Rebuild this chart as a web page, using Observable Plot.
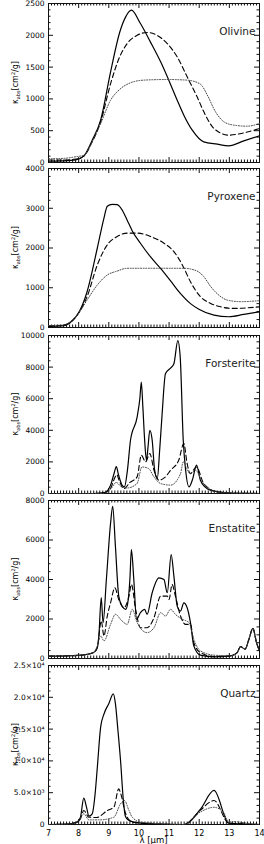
<!DOCTYPE html>
<html><head><meta charset="utf-8">
<script src="https://cdn.jsdelivr.net/npm/d3@7"></script>
<script src="https://cdn.jsdelivr.net/npm/@observablehq/plot@0.6"></script>
<style>
body{margin:0;background:#fff;width:264px;height:844px;position:relative;overflow:hidden;font-family:"DejaVu Sans",sans-serif}
.p{position:absolute;left:0}
</style>
</head><body>
<script>
// ---- axis ticks ----
const xMajorTicks = [7, 8, 9, 10, 11, 12, 13, 14];
const xTickLabels = ["7", "8", "9", "10", "11", "12", "13", "14"];
const olivineTicks = [0, 500, 1000, 1500, 2000, 2500];
const pyroxeneTicks = [0, 1000, 2000, 3000, 4000];
const forsteriteTicks = [0, 2000, 4000, 6000, 8000, 10000];
const enstatiteTicks = [0, 2000, 4000, 6000, 8000];
const quartzTicks = [0, 5000, 10000, 15000, 20000, 25000];
const quartzTickLabels = ["0", "5.0×10³", "1.0×10⁴", "1.5×10⁴", "2.0×10⁴", "2.5×10⁴"];
const titles = ["Olivine", "Pyroxene", "Forsterite", "Enstatite", "Quartz"];

// ---- Olivine ----
const olivineSolidLam = [7.0, 7.5, 7.9, 8.17, 8.45, 8.73, 9.06, 9.36, 9.56, 9.75, 10.05, 10.38, 10.72, 10.99, 11.27, 11.49, 11.77, 12.15, 12.6, 12.98, 13.48, 14.0];
const olivineSolidVal = [20, 25, 40, 100, 350, 665, 1425, 2044, 2290, 2395, 2185, 1897, 1583, 1295, 980, 744, 508, 325, 288, 262, 340, 420];
const olivineDashedLam = [7.0, 7.5, 7.9, 8.17, 8.45, 8.73, 9.06, 9.36, 9.61, 9.94, 10.27, 10.6, 10.94, 11.27, 11.6, 11.93, 12.18, 12.49, 12.98, 13.48, 14.0];
const olivineDashedVal = [40, 40, 55, 100, 325, 640, 1240, 1660, 1870, 2000, 2044, 2000, 1870, 1660, 1347, 1033, 770, 535, 430, 466, 535];
const olivineDottedLam = [7.0, 7.5, 7.9, 8.17, 8.45, 8.73, 9.06, 9.36, 9.72, 10.16, 10.94, 11.6, 12.04, 12.27, 12.54, 12.82, 13.15, 13.59, 14.0];
const olivineDottedVal = [60, 65, 90, 115, 325, 613, 980, 1148, 1253, 1295, 1305, 1295, 1232, 1059, 797, 640, 587, 571, 613];

// ---- Pyroxene ----
const pyroxeneSolidLam = [7.0, 7.45, 7.95, 8.28, 8.62, 8.84, 8.95, 9.11, 9.28, 9.44, 9.61, 9.78, 10.05, 10.38, 10.76, 11.05, 11.38, 11.71, 11.99, 12.49, 12.98, 13.48, 14.0];
const pyroxeneSolidVal = [30, 40, 310, 900, 2000, 2750, 3050, 3100, 3090, 2960, 2700, 2430, 2120, 1780, 1450, 1170, 850, 600, 460, 310, 270, 330, 395];
const pyroxeneDashedLam = [7.0, 7.45, 7.95, 8.28, 8.62, 8.95, 9.28, 9.61, 9.94, 10.38, 10.83, 11.16, 11.44, 11.71, 12.04, 12.38, 12.71, 13.15, 14.0];
const pyroxeneDashedVal = [40, 50, 310, 775, 1575, 2080, 2290, 2375, 2375, 2290, 2120, 1910, 1575, 1150, 775, 605, 520, 480, 520];
const pyroxeneDottedLam = [7.0, 7.45, 7.95, 8.28, 8.62, 8.95, 9.28, 9.61, 10.38, 11.49, 11.93, 12.15, 12.38, 12.65, 12.93, 13.37, 14.0];
const pyroxeneDottedVal = [50, 60, 310, 690, 1070, 1320, 1420, 1490, 1490, 1490, 1420, 1280, 1030, 815, 690, 650, 675];

// ---- Forsterite ----
const forsteriteSolidLam = [7.0, 8.5, 8.85, 9.06, 9.18, 9.25, 9.32, 9.45, 9.52, 9.62, 9.72, 9.94, 10.03, 10.08, 10.13, 10.19, 10.25, 10.3, 10.36, 10.44, 10.52, 10.61, 10.69, 10.77, 10.88, 11.03, 11.16, 11.29, 11.37, 11.47, 11.55, 11.66, 11.78, 11.91, 12.04, 12.2, 12.37, 13.0, 14.0];
const forsteriteSolidVal = [0, 0, 50, 530, 1300, 1700, 1200, 500, 420, 1500, 3370, 4840, 6000, 7050, 5500, 3370, 2100, 2900, 4000, 3370, 1500, 950, 2800, 5050, 7580, 7900, 8210, 9680, 8630, 3370, 1470, 420, 900, 1790, 840, 400, 210, 30, 0];
const forsteriteDashedLam = [7.0, 8.8, 9.05, 9.2, 9.26, 9.35, 9.5, 9.7, 9.94, 10.08, 10.22, 10.36, 10.5, 10.66, 10.85, 11.05, 11.32, 11.49, 11.6, 11.7, 11.91, 12.15, 12.6, 13.2, 14.0];
const forsteriteDashedVal = [0, 0, 300, 1000, 1200, 800, 300, 700, 1050, 2420, 2000, 2530, 1470, 840, 1000, 1470, 2100, 3160, 1890, 1260, 1680, 630, 100, 20, 0];
const forsteriteDottedLam = [7.0, 8.8, 9.05, 9.25, 9.4, 9.6, 9.94, 10.1, 10.32, 10.5, 10.72, 11.05, 11.38, 11.47, 11.58, 11.7, 11.88, 12.1, 12.6, 13.2, 14.0];
const forsteriteDottedVal = [0, 0, 250, 700, 450, 350, 630, 1680, 1580, 1050, 630, 530, 1260, 2000, 1600, 1260, 1470, 740, 100, 20, 0];

// ---- Enstatite ----
const enstatiteSolidLam = [7.0, 7.62, 8.17, 8.5, 8.62, 8.67, 8.75, 8.81, 8.92, 9.06, 9.13, 9.22, 9.33, 9.44, 9.56, 9.63, 9.7, 9.75, 9.83, 9.92, 10.05, 10.19, 10.27, 10.44, 10.66, 10.83, 10.94, 11.07, 11.16, 11.27, 11.38, 11.49, 11.6, 11.71, 11.82, 12.04, 12.49, 13.04, 13.26, 13.37, 13.52, 13.65, 13.78, 13.9, 14.0];
const enstatiteSolidVal = [120, 135, 185, 300, 555, 1140, 3080, 1815, 4000, 6860, 7700, 5680, 3160, 2655, 2490, 2820, 4000, 5510, 4000, 1985, 2320, 2490, 2235, 3330, 4085, 4000, 3330, 5260, 4170, 2655, 2400, 2820, 2570, 1815, 640, 170, 85, 135, 300, 605, 470, 975, 1530, 810, 385];
const enstatiteDashedLam = [7.0, 7.62, 8.17, 8.5, 8.62, 8.75, 8.84, 8.95, 9.06, 9.2, 9.33, 9.5, 9.67, 9.75, 9.89, 10.05, 10.27, 10.5, 10.72, 10.94, 11.0, 11.1, 11.21, 11.38, 11.55, 11.71, 11.82, 12.04, 12.49, 13.04, 13.26, 13.37, 13.52, 13.65, 13.78, 13.9, 14.0];
const enstatiteDashedVal = [120, 135, 185, 300, 555, 1900, 1140, 2150, 2820, 3580, 2990, 2570, 3160, 3750, 2490, 1560, 1560, 2070, 3160, 3160, 2990, 3750, 3160, 2150, 1730, 1730, 810, 300, 100, 135, 300, 605, 470, 975, 1530, 810, 385];
const enstatiteDottedLam = [7.0, 7.62, 8.17, 8.5, 8.62, 8.73, 8.84, 9.06, 9.22, 9.44, 9.61, 9.78, 9.94, 10.27, 10.5, 10.72, 10.88, 11.05, 11.21, 11.44, 11.66, 11.82, 12.04, 12.49, 13.04, 13.26, 13.37, 13.52, 13.65, 13.78, 13.9, 14.0];
const enstatiteDottedVal = [120, 135, 185, 300, 640, 1140, 890, 1730, 2235, 1900, 1730, 2490, 1815, 1310, 1560, 2320, 2150, 2490, 2235, 1985, 1815, 975, 385, 170, 135, 300, 605, 470, 975, 1530, 810, 385];

// ---- Quartz ----
const quartzSolidLam = [7.0, 7.6, 7.95, 8.06, 8.17, 8.26, 8.34, 8.45, 8.55, 8.62, 8.73, 8.85, 9.0, 9.15, 9.22, 9.3, 9.39, 9.48, 9.55, 9.65, 9.84, 10.4, 11.5, 12.05, 12.49, 12.98, 13.37, 14.0];
const quartzSolidVal = [0, 50, 370, 1150, 4140, 2730, 1310, 1680, 5000, 9000, 15300, 17500, 19000, 20550, 19000, 15000, 10060, 4000, 1300, 700, 370, 100, 0, 2460, 5350, 210, 100, 0];
const quartzDashedLam = [7.0, 7.6, 7.95, 8.06, 8.17, 8.34, 8.6, 8.95, 9.17, 9.33, 9.4, 9.56, 9.78, 10.4, 11.5, 12.05, 12.49, 12.98, 13.37, 14.0];
const quartzDashedVal = [0, 50, 400, 900, 2200, 1150, 1100, 2200, 2730, 5600, 4820, 1680, 370, 100, 0, 2300, 3770, 210, 100, 0];
const quartzDottedLam = [7.0, 7.6, 7.95, 8.17, 8.34, 8.7, 9.17, 9.39, 9.52, 9.67, 9.78, 10.06, 11.5, 12.05, 12.49, 12.8, 12.98, 13.15, 13.6, 14.0];
const quartzDottedVal = [0, 50, 300, 1680, 730, 730, 1150, 3250, 3770, 2200, 1150, 370, 0, 2000, 2700, 1940, 400, 450, 200, 0];

// ---- layout ----
const W = 264, ML = 48, MR = 5;
const frames = [[3, 162], [168, 327], [335, 493], [500, 658], [665, 824]];
const panels = [
  {ticks: olivineTicks, series: [[olivineSolidLam, olivineSolidVal], [olivineDashedLam, olivineDashedVal], [olivineDottedLam, olivineDottedVal]]},
  {ticks: pyroxeneTicks, series: [[pyroxeneSolidLam, pyroxeneSolidVal], [pyroxeneDashedLam, pyroxeneDashedVal], [pyroxeneDottedLam, pyroxeneDottedVal]]},
  {ticks: forsteriteTicks, series: [[forsteriteSolidLam, forsteriteSolidVal], [forsteriteDashedLam, forsteriteDashedVal], [forsteriteDottedLam, forsteriteDottedVal]]},
  {ticks: enstatiteTicks, series: [[enstatiteSolidLam, enstatiteSolidVal], [enstatiteDashedLam, enstatiteDashedVal], [enstatiteDottedLam, enstatiteDottedVal]]},
  {ticks: quartzTicks, labels: quartzTickLabels, series: [[quartzSolidLam, quartzSolidVal], [quartzDashedLam, quartzDashedVal], [quartzDottedLam, quartzDottedVal]]}
];
const styles = [
  {stroke: "#000", strokeWidth: 1.2},
  {stroke: "#000", strokeWidth: 1.1, strokeDasharray: "5,3"},
  {stroke: "#444", strokeWidth: 1, strokeDasharray: "1,1.6"}
];
const xMinorTicks = d3.range(70, 141).map(d => d / 10).filter(d => !Number.isInteger(d));

panels.forEach((p, i) => {
  const [ft, fb] = frames[i];
  const fh = fb - ft;
  const fw = W - ML - MR;
  const last = i === panels.length - 1;
  const mt = 8, mb = last ? 20 : 8;
  const step = p.ticks[1] - p.ticks[0];
  const yMinor = d3.range(0, p.ticks[p.ticks.length - 1] + 1, step / 5).filter(v => !p.ticks.includes(v));
  const marks = [
    Plot.frame({stroke: "#111", strokeWidth: 1}),
    Plot.tickX(xMajorTicks, {x: d => d, insetTop: fh - 5, stroke: "#111"}),
    Plot.tickX(xMinorTicks, {x: d => d, insetTop: fh - 2.5, stroke: "#111"}),
    Plot.tickX(xMajorTicks, {x: d => d, insetBottom: fh - 5, stroke: "#111"}),
    Plot.tickX(xMinorTicks, {x: d => d, insetBottom: fh - 2.5, stroke: "#111"}),
    Plot.tickY(p.ticks, {y: d => d, insetRight: fw - 5, stroke: "#111"}),
    Plot.tickY(yMinor, {y: d => d, insetRight: fw - 2.5, stroke: "#111"}),
    Plot.tickY(p.ticks, {y: d => d, insetLeft: fw - 5, stroke: "#111"}),
    Plot.tickY(yMinor, {y: d => d, insetLeft: fw - 2.5, stroke: "#111"}),
    Plot.axisY(p.ticks, {tickSize: 0, tickPadding: 4, fontSize: 7.5, label: null,
      tickFormat: p.labels ? (v => p.labels[p.ticks.indexOf(v)]) : (v => String(v))}),
    ...p.series.map(([lam, val], k) => Plot.line(lam.map((l, j) => ({l, v: val[j]})),
      {x: "l", y: "v", curve: "monotone-x", ...styles[k]})),
    Plot.text([titles[i]], {frameAnchor: "top-right", text: d => d, dx: -4, dy: 24, textAnchor: "end", fontSize: 10.5, fill: "#222"})
  ];
  if (last) marks.push(Plot.axisX(xMajorTicks, {tickSize: 0, tickPadding: 6, fontSize: 8, label: null,
    tickFormat: v => xTickLabels[xMajorTicks.indexOf(v)]}));
  const svg = Plot.plot({
    width: W, height: mt + fh + mb,
    marginLeft: ML, marginRight: MR, marginTop: mt, marginBottom: mb,
    x: {domain: [7, 14], axis: last ? undefined : null, label: null},
    y: {domain: [p.ticks[0], p.ticks[p.ticks.length - 1]], label: null},
    style: {background: "transparent", overflow: "visible", fontFamily: "DejaVu Sans", color: "#000"},
    marks
  });
  svg.classList.add("p");
  svg.style.top = (ft - mt) + "px";
  svg.style.position = "absolute";
  const s = d3.select(svg);
  const cy = mt + fh / 2;
  const t = s.append("text")
    .attr("transform", `translate(18,${cy}) rotate(-90)`)
    .attr("text-anchor", "middle")
    .attr("font-size", 8).attr("font-family", "DejaVu Sans").attr("fill", "#000");
  t.append("tspan").text("κ");
  t.append("tspan").attr("font-size", 5).attr("dy", 1.8).text("abs");
  t.append("tspan").attr("dy", -1.8).text("[cm");
  t.append("tspan").attr("font-size", 5).attr("dy", -3).text("2");
  t.append("tspan").attr("dy", 3).text("/g]");
  if (last) {
    s.append("text").attr("x", ML + fw / 2).attr("y", mt + fh + 19)
      .attr("text-anchor", "middle").attr("font-size", 8.5).attr("font-family", "DejaVu Sans").attr("fill", "#000")
      .text("λ [μm]");
  }
  document.body.appendChild(svg);
});
</script>
</body></html>
